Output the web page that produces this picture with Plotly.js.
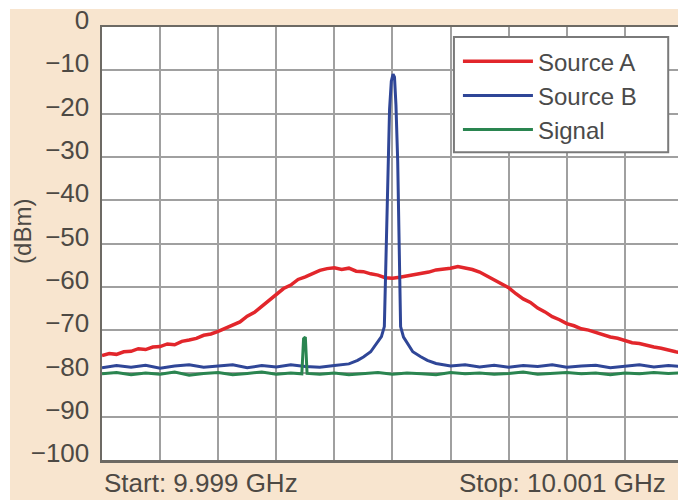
<!DOCTYPE html>
<html>
<head>
<meta charset="utf-8">
<script src="https://cdn.plot.ly/plotly-3.0.1.min.js"></script>
<style>html,body{margin:0;padding:0;background:#fff;}#chart{width:678px;height:500px;}</style>
</head>
<body>
<div id="chart"></div>
<script>
// Frequency offsets from 10 GHz centre, in MHz (span 9.999 to 10.001 GHz)
const offsetA = [-1.000,-0.975,-0.950,-0.925,-0.900,-0.875,-0.850,-0.825,-0.800,-0.775,-0.750,-0.725,-0.700,-0.675,-0.650,-0.625,-0.600,-0.575,-0.550,-0.525,-0.500,-0.475,-0.450,-0.425,-0.400,-0.375,-0.350,-0.325,-0.300,-0.275,-0.250,-0.225,-0.200,-0.175,-0.150,-0.125,-0.100,-0.075,-0.050,-0.025,0.000,0.025,0.050,0.075,0.100,0.125,0.150,0.175,0.200,0.225,0.250,0.275,0.300,0.325,0.350,0.375,0.400,0.425,0.450,0.475,0.500,0.525,0.550,0.575,0.600,0.625,0.650,0.675,0.700,0.725,0.750,0.775,0.800,0.825,0.850,0.875,0.900,0.925,0.950,0.975,1.000];
const sourceA = [-75.9,-75.4,-75.6,-75.0,-74.9,-74.3,-74.5,-73.9,-73.8,-73.2,-73.4,-72.6,-72.3,-71.9,-71.2,-70.9,-70.3,-69.6,-68.7,-68.1,-66.8,-65.9,-64.5,-63.2,-61.8,-60.4,-59.6,-58.3,-57.7,-56.9,-56.2,-55.8,-55.6,-56.0,-55.7,-56.4,-56.5,-57.0,-57.3,-57.9,-58.0,-57.8,-57.5,-57.2,-56.8,-56.6,-56.1,-56.0,-55.7,-55.3,-55.6,-56.0,-56.6,-57.5,-58.3,-59.4,-60.2,-61.6,-62.8,-63.6,-64.9,-65.8,-66.9,-67.6,-68.5,-69.0,-69.7,-70.0,-70.6,-71.0,-71.6,-71.9,-72.4,-72.9,-73.1,-73.6,-73.9,-74.2,-74.7,-75.0,-75.3];

const offsetB = [-1.00,-0.95,-0.90,-0.85,-0.80,-0.75,-0.70,-0.65,-0.60,-0.55,-0.50,-0.45,-0.40,-0.35,-0.30,-0.25,-0.20,-0.15,-0.12,-0.10,-0.075,-0.052,-0.038,-0.028,-0.022,-0.016,-0.010,-0.004,0.002,0.007,0.012,0.018,0.023,0.028,0.038,0.050,0.070,0.096,0.12,0.15,0.20,0.25,0.30,0.35,0.40,0.45,0.50,0.55,0.60,0.65,0.70,0.75,0.80,0.85,0.90,0.95,1.00];
const sourceB = [-78.7,-78.2,-78.6,-78.1,-78.8,-78.3,-78.0,-78.6,-78.3,-78.0,-78.7,-78.2,-78.5,-78.0,-78.4,-78.6,-78.2,-77.8,-77.0,-76.2,-75.0,-73.0,-71.5,-69.2,-52.0,-30.7,-19.0,-12.5,-10.9,-11.6,-18.0,-31.0,-52.0,-69.2,-71.6,-73.0,-75.0,-76.1,-77.0,-77.7,-78.3,-78.0,-78.5,-78.1,-78.6,-78.2,-78.4,-78.0,-78.6,-78.3,-78.1,-78.7,-78.3,-78.0,-78.5,-78.2,-78.4];

const offsetS = [-1.00,-0.95,-0.90,-0.85,-0.80,-0.75,-0.70,-0.65,-0.60,-0.55,-0.50,-0.45,-0.40,-0.35,-0.312,-0.306,-0.300,-0.294,-0.25,-0.20,-0.15,-0.10,-0.05,0.00,0.05,0.10,0.15,0.20,0.25,0.30,0.35,0.40,0.45,0.50,0.55,0.60,0.65,0.70,0.75,0.80,0.85,0.90,0.95,1.00];
const signal = [-80.1,-79.8,-80.3,-79.9,-80.2,-79.7,-80.4,-80.0,-79.8,-80.3,-80.0,-79.7,-80.2,-79.9,-80.1,-72.0,-71.6,-80.0,-80.2,-79.9,-80.3,-80.0,-79.8,-80.2,-79.9,-80.1,-80.3,-79.8,-80.1,-79.9,-80.2,-80.0,-79.7,-80.2,-80.0,-79.8,-80.1,-79.9,-80.3,-79.9,-80.1,-79.8,-80.0,-79.9];

const seriesNames = ["Source A", "Source B", "Signal"];
const yTickVals = [0,-10,-20,-30,-40,-50,-60,-70,-80,-90,-100];
const startLabel = "Start: 9.999 GHz";
const stopLabel = "Stop: 10.001 GHz";
const yTitle = "(dBm)";

const FONT = "Liberation Sans, Arial, Helvetica, sans-serif";
const txt = "#4d4944";

const traces = [
  {x: offsetA, y: sourceA, name: seriesNames[0], legendgroup: "a", mode: "lines", line: {color: "#e2262b", width: 3.5}},
  {x: offsetB, y: sourceB, name: seriesNames[1], legendgroup: "b", mode: "lines", line: {color: "#2f4697", width: 3}},
  {x: offsetS, y: signal, name: seriesNames[2], legendgroup: "c", mode: "lines", line: {color: "#2a8550", width: 3}}
];

const layout = {
  width: 678, height: 500,
  margin: {l: 102, r: 0, t: 27, b: 40},
  paper_bgcolor: "#f8e5cf",
  plot_bgcolor: "#ffffff",
  font: {family: FONT, color: txt, size: 26},
  showlegend: true,
  legend: {
    x: 0.611, y: 0.972, xanchor: "left", yanchor: "top",
    bgcolor: "rgba(0,0,0,0)", borderwidth: 0,
    font: {family: FONT, size: 24, color: "#4a4a4a"},
    traceorder: "grouped", tracegroupgap: 0, itemwidth: 70, indentation: 4
  },
  xaxis: {
    range: [-1.0, 0.983], dtick: 0.2, tick0: 0,
    showticklabels: false, ticks: "",
    showgrid: true, gridcolor: "#a0a0a0", gridwidth: 2,
    showline: true, linecolor: "#6d6a64", linewidth: 2.5, mirror: true,
    zeroline: false, fixedrange: true
  },
  yaxis: {
    range: [-100, 0], tickvals: yTickVals, ticks: "",
    showgrid: true, gridcolor: "#a0a0a0", gridwidth: 2,
    showline: true, linecolor: "#6d6a64", linewidth: 2.5, mirror: false,
    zeroline: false, fixedrange: true,
    tickfont: {family: FONT, size: 26, color: txt},
    ticklabelstandoff: 5, ticklabelshift: -7
  },
  shapes: [
    // legend frame
    {type: "rect", xref: "paper", yref: "paper", x0: 0.611, x1: 0.983, y0: 0.711, y1: 0.977, fillcolor: "#ffffff", line: {color: "#7a7a7a", width: 2}, layer: "above"},
    // white page margins at top and left
    {type: "rect", xref: "paper", yref: "paper", x0: -0.2, x1: 1.01, y0: 1.0416, y1: 1.2, fillcolor: "#ffffff", line: {width: 0}, layer: "above"},
    {type: "rect", xref: "paper", yref: "paper", x0: -0.2, x1: -0.1597, y0: -0.2, y1: 1.2, fillcolor: "#ffffff", line: {width: 0}, layer: "above"}
  ],
  annotations: [
    {text: yTitle, xref: "paper", yref: "paper", x: -0.137, y: 0.527, xanchor: "center", yanchor: "middle", textangle: -90, showarrow: false, font: {family: FONT, size: 24, color: txt}},
    {text: startLabel, xref: "paper", yref: "paper", x: 0.0, y: -0.092, xanchor: "left", yanchor: "bottom", showarrow: false, font: {family: FONT, size: 26, color: txt}},
    {text: stopLabel, xref: "paper", yref: "paper", x: 0.983, y: -0.092, xanchor: "right", yanchor: "bottom", showarrow: false, font: {family: FONT, size: 26, color: txt}}
  ]
};

Plotly.newPlot("chart", traces, layout, {staticPlot: true, displayModeBar: false});
</script>
</body>
</html>
